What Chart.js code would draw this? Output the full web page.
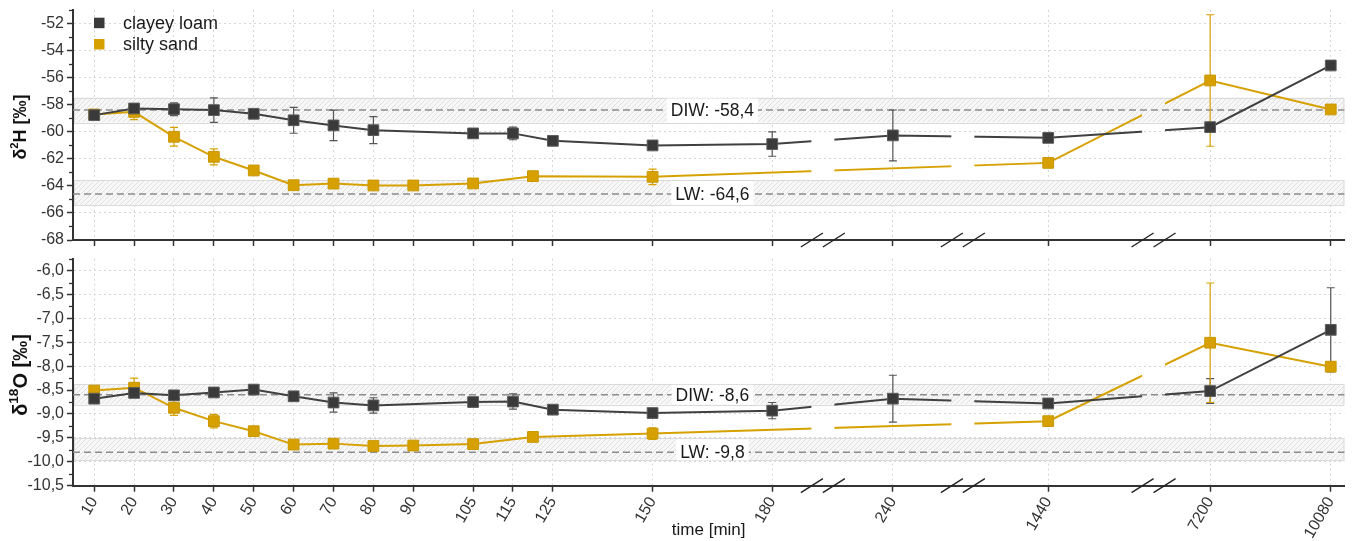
<!DOCTYPE html>
<html><head><meta charset="utf-8">
<script src="https://cdn.jsdelivr.net/npm/chart.js@4.4.1/dist/chart.umd.min.js"></script>
<style>
html,body{margin:0;padding:0;background:#fff;}
#wrap{position:relative;width:1353px;height:541px;overflow:hidden;}
#c1{position:absolute;left:0;top:0;}
#c2{position:absolute;left:0;top:250px;}
</style></head><body>
<div id="wrap"><canvas id="c1" width="1353" height="250"></canvas><canvas id="c2" width="1353" height="291"></canvas></div>
<script>
// ---------------- DATA ----------------
const timeTicks = [10,20,30,40,50,60,70,80,90,105,115,125,150,180,240,1440,7200,10080];
const h2Ticks = [-68,-66,-64,-62,-60,-58,-56,-54,-52];
const o18Ticks = [-10.5,-10.0,-9.5,-9.0,-8.5,-8.0,-7.5,-7.0,-6.5,-6.0];

const clayTimes = [10,20,30,40,50,60,70,80,105,115,125,150,180,240,1440,7200,10080];
const clayH2    = [-58.77,-58.28,-58.33,-58.40,-58.67,-59.15,-59.53,-59.88,-60.12,-60.12,-60.67,-61.01,-60.91,-60.27,-60.45,-59.66,-55.10];
const clayH2Err = [0.15,0.25,0.47,0.90,0.30,0.96,1.13,1.00,0,0.47,0,0,0.90,1.88,0,0,0];
const clayO18    = [-8.68,-8.56,-8.61,-8.55,-8.49,-8.63,-8.76,-8.82,-8.75,-8.74,-8.91,-8.98,-8.93,-8.68,-8.78,-8.52,-7.24];
const clayO18Err = [0.05,0.06,0.05,0.07,0.04,0,0.20,0.16,0,0.16,0,0,0.17,0.49,0,0.26,0.88];

const sandTimes = [10,20,30,40,50,60,70,80,90,105,120,150,1440,7200,10080];
const sandH2    = [-58.72,-58.53,-60.37,-61.85,-62.86,-63.95,-63.83,-63.97,-63.97,-63.82,-63.28,-63.33,-62.30,-56.21,-58.35];
const sandH2Err = [0.15,0.58,0.69,0.59,0.15,0,0,0,0,0,0,0.57,0,4.86,0];
const sandO18    = [-8.51,-8.45,-8.87,-9.15,-9.36,-9.64,-9.62,-9.67,-9.66,-9.63,-9.48,-9.41,-9.15,-7.51,-8.01];
const sandO18Err = [0.05,0.20,0.16,0.14,0,0,0,0,0,0,0,0.12,0,1.25,0.05];

const refNames = ['DIW','LW'];
const refH2 = [-58.4,-64.6];
const refH2Band = [[-59.31,-57.47],[-65.42,-63.57]];
const refO18 = [-8.6,-9.8];
const refO18Band = [[-8.80,-8.37],[-9.97,-9.51]];

const seriesNames = ['clayey loam','silty sand'];

// broken time axis definition: value ranges and share of axis length
const X_SEGMENTS = [
  {min: 4.68, max: 192.7, w: 0.5898},
  {min: 220,  max: 260,   w: 0.1101},
  {min: 1000, max: 1983,  w: 0.1500},
  {min: 5848, max: 10406, w: 0.1501}
];
const REF_LABEL_TIME = 165;
// ---------------- STYLE ----------------
const FONT = '"Liberation Sans", Arial, sans-serif';
Chart.defaults.font.family = FONT;
Chart.defaults.color = '#333';
const GREY = '#404040', GREY_PT = '#3a3a3a', ORANGE = '#d6a100';
const GAP_HALF = 11.5;

class BrokenScale extends Chart.LinearScale {
  determineDataLimits() {
    this.min = X_SEGMENTS[0].min;
    this.max = X_SEGMENTS[X_SEGMENTS.length - 1].max;
  }
  buildTicks() { return timeTicks.map(v => ({value: v})); }
  getPixelForValue(value) {
    let acc = 0;
    for (let i = 0; i < X_SEGMENTS.length; i++) {
      const s = X_SEGMENTS[i];
      if (value <= s.max || i === X_SEGMENTS.length - 1) {
        return this.getPixelForDecimal(acc + s.w * (value - s.min) / (s.max - s.min));
      }
      acc += s.w;
    }
  }
  getValueForPixel(pixel) {
    const d = this.getDecimalForPixel(pixel);
    let acc = 0;
    for (const s of X_SEGMENTS) {
      if (d <= acc + s.w) return s.min + (d - acc) / s.w * (s.max - s.min);
      acc += s.w;
    }
    return this.max;
  }
  breakPixels() {
    const out = []; let acc = 0;
    for (let i = 0; i < X_SEGMENTS.length - 1; i++) { acc += X_SEGMENTS[i].w; out.push(this.getPixelForDecimal(acc)); }
    return out;
  }
}
BrokenScale.id = 'broken';
BrokenScale.defaults = Chart.LinearScale.defaults;
Chart.register(BrokenScale);

const HATCH = (() => {
  const c = document.createElement('canvas'); c.width = 5; c.height = 5;
  const g = c.getContext('2d'); g.strokeStyle = '#dcdcdc'; g.lineWidth = 0.9;
  g.beginPath(); g.moveTo(0,5); g.lineTo(5,0); g.moveTo(-1,1); g.lineTo(1,-1); g.moveTo(4,6); g.lineTo(6,4); g.stroke();
  return c;
})();

function pts(times, vals) { return times.map((t, i) => ({x: t, y: vals[i]})); }
function comma(v, d) { return v.toFixed(d).replace('.', ','); }

function drawRichV(ctx, cx, cy, parts, size, supRatio) {
  ctx.save(); ctx.translate(cx, cy); ctx.rotate(-Math.PI / 2);
  let total = 0;
  const items = parts.map(p => {
    const f = 'bold ' + (p.sup ? size * supRatio : size) + 'px ' + FONT;
    ctx.font = f; const w = ctx.measureText(p.t).width; total += w;
    return {t: p.t, sup: p.sup, f, w};
  });
  let x = -total / 2;
  ctx.textBaseline = 'middle'; ctx.textAlign = 'left'; ctx.fillStyle = '#111';
  for (const it of items) { ctx.font = it.f; ctx.fillText(it.t, x, it.sup ? -size * 0.32 : 0); x += it.w; }
  ctx.restore();
}

function panelPlugin(p) {
  return {
    id: 'panel',
    beforeDatasetsDraw(chart) {
      const {ctx, chartArea: a, scales: {x, y}} = chart;
      ctx.save();
      const pat = ctx.createPattern(HATCH, 'repeat');
      p.refs.forEach(r => {
        const y1 = y.getPixelForValue(r.band[1]), y2 = y.getPixelForValue(r.band[0]);
        ctx.fillStyle = '#f7f7f7'; ctx.fillRect(a.left + 1, y1, a.right - a.left - 1, y2 - y1);
        ctx.fillStyle = pat; ctx.fillRect(a.left + 1, y1, a.right - a.left - 1, y2 - y1);
        ctx.strokeStyle = '#dadada'; ctx.lineWidth = 1;
        ctx.strokeRect(a.left + 1.5, Math.round(y1) + 0.5, a.right - a.left - 2, Math.round(y2 - y1));
      });
      ctx.setLineDash([7, 4]); ctx.strokeStyle = '#8c8c8c'; ctx.lineWidth = 1.5;
      p.refs.forEach(r => {
        const yy = y.getPixelForValue(r.value);
        ctx.beginPath(); ctx.moveTo(a.left, yy); ctx.lineTo(a.right, yy); ctx.stroke();
      });
      ctx.setLineDash([]);
      ctx.font = '17.5px ' + FONT; ctx.textAlign = 'center'; ctx.textBaseline = 'middle';
      p.refs.forEach(r => {
        const cx = x.getPixelForValue(REF_LABEL_TIME);
        const yy = y.getPixelForValue(r.value);
        const y1 = y.getPixelForValue(r.band[1]), y2 = y.getPixelForValue(r.band[0]);
        const w = ctx.measureText(r.label).width + 8;
        ctx.fillStyle = '#fff'; ctx.fillRect(cx - w / 2, y1 + 1, w, y2 - y1 - 1);
        ctx.fillStyle = '#1a1a1a'; ctx.fillText(r.label, cx, yy + 1);
      });
      chart.data.datasets.forEach(ds => {
        ctx.strokeStyle = ds.errorColor; ctx.lineWidth = 1.2;
        ds.data.forEach((pt, i) => {
          const e = ds.errors[i]; if (!e) return;
          const px = x.getPixelForValue(pt.x), t = y.getPixelForValue(pt.y + e), b = y.getPixelForValue(pt.y - e);
          ctx.beginPath();
          ctx.moveTo(px, t); ctx.lineTo(px, b);
          ctx.moveTo(px - 4, t); ctx.lineTo(px + 4, t);
          ctx.moveTo(px - 4, b); ctx.lineTo(px + 4, b);
          ctx.stroke();
        });
      });
      ctx.restore();
      // clip away series lines in axis breaks
      ctx.save();
      ctx.beginPath();
      let start = 0;
      x.breakPixels().forEach(g => { ctx.rect(start, 0, g - GAP_HALF - start, chart.height); start = g + GAP_HALF; });
      ctx.rect(start, 0, chart.width - start, chart.height);
      ctx.clip();
    },
    afterDatasetsDraw(chart) {
      const {ctx, chartArea: a, scales: {x, y}} = chart;
      ctx.restore();
      ctx.save();
      ctx.strokeStyle = '#222'; ctx.lineWidth = 1.4;
      x.breakPixels().forEach(g => {
        const yb = a.bottom;
        ctx.beginPath();
        ctx.moveTo(g - 22, yb + 7); ctx.lineTo(g, yb - 7);
        ctx.moveTo(g, yb + 7); ctx.lineTo(g + 22, yb - 7);
        ctx.stroke();
      });
      ctx.strokeStyle = '#333'; ctx.lineWidth = 1.3;
      p.minor.forEach(v => {
        const yy = Math.round(y.getPixelForValue(v)) + 0.5;
        ctx.beginPath(); ctx.moveTo(a.left - 4, yy); ctx.lineTo(a.left, yy); ctx.stroke();
      });
      drawRichV(ctx, 21, p.titleY, p.title, p.titleSize, p.supRatio);
      if (p.legend) {
        ctx.font = '18px ' + FONT; ctx.textAlign = 'left'; ctx.textBaseline = 'middle';
        p.legend.forEach((l, i) => {
          const yy = 22.7 + i * 21.3;
          ctx.fillStyle = l.color; ctx.fillRect(94, yy - 5, 10.5, 10.5);
          ctx.fillStyle = '#1a1a1a'; ctx.fillText(l.text, 123, yy + 1);
        });
      }
      ctx.restore();
    }
  };
}

function ds(name, times, vals, errs, isClay) {
  return {
    label: name, data: pts(times, vals), errors: errs,
    errorColor: isClay ? '#555' : ORANGE,
    borderColor: isClay ? GREY : ORANGE, borderWidth: 2,
    pointStyle: 'rect', pointRadius: 7.6, pointHoverRadius: 7.6,
    pointBackgroundColor: isClay ? GREY_PT : ORANGE,
    pointBorderColor: isClay ? '#5c5c5c' : '#c99700', pointBorderWidth: 1,
    tension: 0, fill: false
  };
}

function yScale(min, max, ticks, fmt) {
  return {
    type: 'linear', min, max,
    afterBuildTicks: s => { s.ticks = ticks.map(v => ({value: v})); },
    ticks: {callback: fmt, font: {size: 16}, color: '#333', padding: 3},
    grid: {color: '#d6d6d6', lineWidth: 1, tickLength: 6, tickColor: '#333', tickWidth: 1.5, tickBorderDash: []},
    border: {color: '#333', width: 2, dash: [2, 3]},
    afterFit: s => { s.width = 73; s.paddingTop = 0; s.paddingBottom = 0; }
  };
}

function xScale(showLabels, height) {
  return {
    type: 'broken',
    ticks: {display: showLabels, autoSkip: false, minRotation: 60, maxRotation: 60, font: {size: 16}, color: '#333', padding: 2, callback: v => String(v)},
    grid: {color: '#d6d6d6', lineWidth: 1, tickLength: 6, tickColor: '#333', tickWidth: 1.5, tickBorderDash: []},
    border: {color: '#333', width: 2, dash: [2, 3]},
    title: {display: showLabels, text: 'time [min]', font: {size: 17}, color: '#1a1a1a', padding: {top: 0, bottom: 0}},
    afterFit: s => { s.height = height; s.paddingLeft = 0; s.paddingRight = 0; }
  };
}

function minorTicks(majors) {
  const step = majors[1] - majors[0], out = [];
  majors.forEach(v => out.push(v + step / 2));
  return out;
}

const baseOpts = {animation: false, responsive: false, events: [], plugins: {legend: {display: false}, tooltip: {enabled: false}}};

new Chart(document.getElementById('c1'), {
  type: 'line',
  data: {datasets: [
    ds(seriesNames[0], clayTimes, clayH2, clayH2Err, true),
    ds(seriesNames[1], sandTimes, sandH2, sandH2Err, false)
  ]},
  options: Object.assign({}, baseOpts, {
    layout: {padding: {top: 10, right: 4, left: 0, bottom: 0}},
    scales: {x: xScale(false, 10), y: yScale(-68, -51, h2Ticks, v => String(v))}
  }),
  plugins: [panelPlugin({
    refs: refNames.map((n, i) => ({value: refH2[i], band: refH2Band[i], label: n + ': ' + comma(refH2[i], 1)})),
    minor: minorTicks(h2Ticks),
    title: [{t: 'δ'}, {t: '2', sup: true}, {t: 'H [‰]'}], titleY: 127, titleSize: 18, supRatio: 0.62,
    legend: [{text: seriesNames[0], color: GREY_PT}, {text: seriesNames[1], color: ORANGE}]
  })]
});

new Chart(document.getElementById('c2'), {
  type: 'line',
  data: {datasets: [
    ds(seriesNames[0], clayTimes, clayO18, clayO18Err, true),
    ds(seriesNames[1], sandTimes, sandO18, sandO18Err, false)
  ]},
  options: Object.assign({}, baseOpts, {
    layout: {padding: {top: 5, right: 4, left: 0, bottom: 0}},
    scales: {x: xScale(true, 55.3), y: yScale(-10.5, -5.75, o18Ticks, v => comma(v, 1))}
  }),
  plugins: [panelPlugin({
    refs: refNames.map((n, i) => ({value: refO18[i], band: refO18Band[i], label: n + ': ' + comma(refO18[i], 1)})),
    minor: minorTicks(o18Ticks),
    title: [{t: 'δ'}, {t: '18', sup: true}, {t: 'O [‰]'}], titleY: 125, titleSize: 20, supRatio: 0.68,
    legend: null
  })]
});
</script>
</body></html>
